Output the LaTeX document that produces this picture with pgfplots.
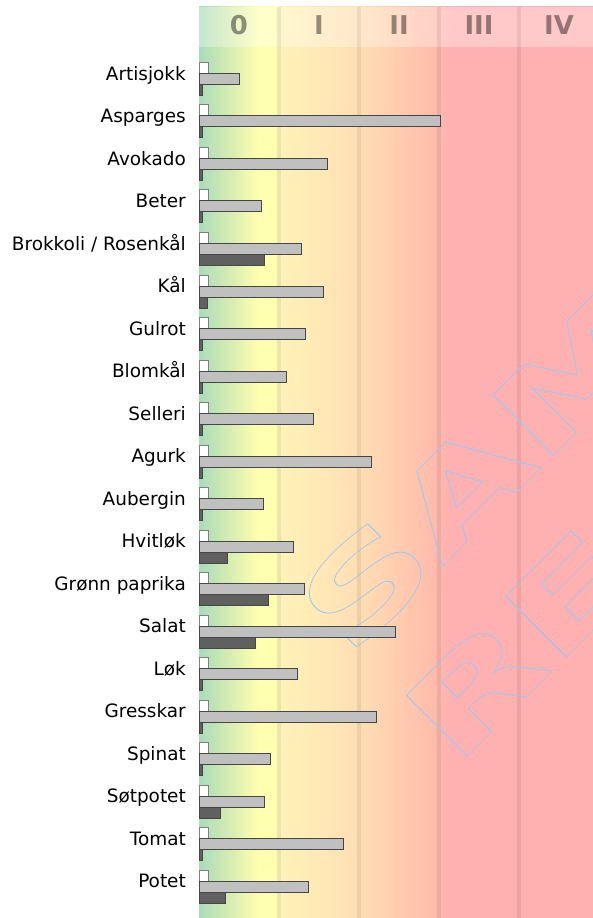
\documentclass[border=0pt]{standalone}
\usepackage{pgfplots}
\pgfplotsset{compat=1.18}
\usepackage{pgfplotstable}
\usepackage{fontspec}
\setmainfont{DejaVu Sans}

% zone colours, left (green) to right (red)
\definecolor{z0}{RGB}{170,219,186}
\definecolor{z1}{RGB}{214,236,178}
\definecolor{z2}{RGB}{255,255,176}
\definecolor{z3}{RGB}{255,243,184}
\definecolor{z4}{RGB}{255,222,180}
\definecolor{z5}{RGB}{255,190,172}
\definecolor{z6}{RGB}{255,176,176}
\definecolor{barwhite}{RGB}{255,255,255}
\definecolor{bargray}{RGB}{192,192,192}
\definecolor{bardark}{RGB}{96,96,96}
\definecolor{edge}{RGB}{70,70,70}
\definecolor{wmark}{RGB}{160,200,240}

% path bbox maps onto 25bp..75bp; one class = 10bp
\pgfdeclarehorizontalshading{zones}{100bp}{
  color(0bp)=(z0); color(25bp)=(z0); color(28.75bp)=(z1);
  color(32.5bp)=(z2); color(34.6bp)=(z2); color(35.2bp)=(z3);
  color(45bp)=(z4); color(53.75bp)=(z5); color(56.5bp)=(z6);
  color(100bp)=(z6)}

% outlined text (stroke only)
\newcommand\outline[1]{\special{pdf:literal direct 1 Tr 0.7 w}#1\special{pdf:literal direct 0 Tr}}

% values in class units (one class = 80px)
\pgfplotstableread[col sep=comma]{
idx,white,gray,dark
0,0.116,0.504,0.041
1,0.116,3.021,0.041
2,0.116,1.600,0.041
3,0.116,0.779,0.041
4,0.116,1.275,0.816
5,0.116,1.550,0.109
6,0.116,1.325,0.041
7,0.116,1.088,0.041
8,0.116,1.425,0.041
9,0.116,2.150,0.041
10,0.116,0.804,0.041
11,0.116,1.175,0.350
12,0.116,1.316,0.871
13,0.116,2.454,0.704
14,0.116,1.229,0.041
15,0.116,2.213,0.041
16,0.116,0.891,0.041
17,0.116,0.813,0.266
18,0.116,1.809,0.041
19,0.116,1.366,0.334
}\veg

\begin{document}
\begin{tikzpicture}[x=1bp,y=1bp]
  % background zones
  \shade[shading=zones] (199,0) rectangle (599,871);
  \shade[shading=zones] (199,871) rectangle (599,911);
  \fill[white, opacity=0.32] (199,871) rectangle (599,911);
  \foreach \xx in {279,359,439,519}
    \draw[black, opacity=0.07, line width=3.5bp] (\xx,0) -- (\xx,911);
  \foreach \xx/\lab in {239/0,319/I,399/II,479/III,559/IV}
    \node[font=\bfseries\fontsize{26}{28}\selectfont, text=black, text opacity=0.42]
      at (\xx,893) {\lab};

  % watermark
  \node[rotate=45, anchor=base west, inner sep=0pt, xscale=1.55, text=wmark,
        font=\bfseries\fontsize{118}{118}\selectfont]
    at (349,258) {\outline{SAMPLE}};
  \node[rotate=45, anchor=base west, inner sep=0pt, xscale=1.55, text=wmark,
        font=\bfseries\fontsize{118}{118}\selectfont]
    at (455,150) {\outline{RESULTS}};

  \begin{axis}[
      at={(199bp,0bp)}, anchor=south west,
      width=394bp, height=871bp, scale only axis,
      xmin=0, xmax=4.925,
      ymin=-0.753, ymax=19.741,
      y dir=reverse,
      xbar, bar width=11bp,
      axis line style={draw=none},
      major tick length=0pt,
      xtick=\empty,
      ytick={0,...,19},
      yticklabels={Artisjokk, Asparges, Avokado, Beter,
        Brokkoli / Rosenkål, Kål, Gulrot, Blomkål, Selleri, Agurk,
        Aubergin, Hvitløk, Grønn paprika, Salat, Løk, Gresskar,
        Spinat, Søtpotet, Tomat, Potet},
      yticklabel style={anchor=base east, inner sep=0pt,
        xshift=-13bp, yshift=-1.3bp,
        font=\fontsize{18.5}{20}\selectfont},
      clip=false,
    ]
    \addplot[fill=barwhite, draw=gray, line width=1bp, bar shift=11bp]
      table[x=white, y=idx] {\veg};
    \addplot[fill=bargray, draw=edge, line width=1bp, bar shift=0bp]
      table[x=gray, y=idx] {\veg};
    \addplot[fill=bardark, draw=edge, line width=1bp, bar shift=-11bp]
      table[x=dark, y=idx] {\veg};
  \end{axis}
  \pgfresetboundingbox
  \useasboundingbox (0,0) rectangle (593,918);
\end{tikzpicture}
\end{document}
